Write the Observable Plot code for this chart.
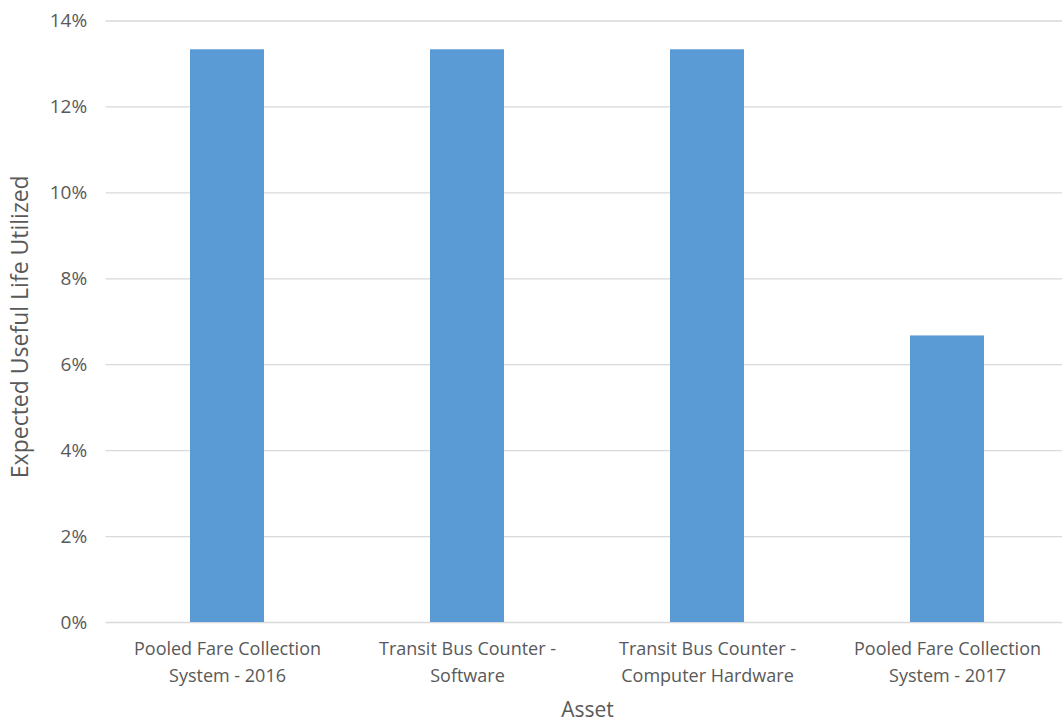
<!DOCTYPE html>
<html>
<head>
<meta charset="utf-8">
<script src="https://cdn.jsdelivr.net/npm/d3@7"></script>
<script src="https://cdn.jsdelivr.net/npm/@observablehq/plot@0.6"></script>
<style>
  html, body { margin: 0; padding: 0; background: #fff; overflow: hidden; }
  #chart svg { display: block; }
</style>
</head>
<body>
<div id="chart"></div>
<script>
// Share of expected useful life already used, by asset
const assets = [
  "Pooled Fare Collection System - 2016",
  "Transit Bus Counter - Software",
  "Transit Bus Counter - Computer Hardware",
  "Pooled Fare Collection System - 2017"
];
const assetLines = [
  "Pooled Fare Collection\nSystem - 2016",
  "Transit Bus Counter -\nSoftware",
  "Transit Bus Counter -\nComputer Hardware",
  "Pooled Fare Collection\nSystem - 2017"
];
const lifeUsed = [13.33, 13.33, 13.33, 6.67];
const yTicks = [0, 2, 4, 6, 8, 10, 12, 14];

const rows = assets.map((a, i) => ({asset: a, value: lifeUsed[i]}));
const lineOf = new Map(assets.map((a, i) => [a, assetLines[i]]));

const textColor = "#595959";
const font = "'Open Sans', 'Noto Sans', sans-serif";

const chart = Plot.plot({
  width: 1062,
  height: 722,
  marginTop: 20.5,
  marginBottom: 100,
  marginLeft: 105.6,
  marginRight: -6.4,
  style: {fontFamily: font, color: textColor, background: "#fff"},
  x: {domain: assets, paddingInner: 0.69, paddingOuter: 0.345, label: null},
  y: {domain: [0, 14], label: null},
  marks: [
    Plot.ruleY(yTicks, {stroke: "#d9d9d9", strokeWidth: 1.3}),
    Plot.barY(rows, {x: "asset", y: "value", fill: "#5b9bd5"}),
    Plot.axisY(yTicks, {
      tickSize: 0, tickPadding: 19, fontSize: 19, fill: textColor,
      tickFormat: d => d + "%", label: null
    }),
    Plot.axisX({
      tickSize: 0, tickPadding: 13, fontSize: 18, fill: textColor,
      lineHeight: 1.5, tickFormat: d => lineOf.get(d), label: null
    }),
    Plot.text(["Expected Useful Life Utilized"], {
      frameAnchor: "left", rotate: -90, dx: -85, dy: 5, textAnchor: "middle",
      fontSize: 23, fill: textColor, text: d => d
    }),
    Plot.text(["Asset"], {
      frameAnchor: "bottom", dy: 94,
      fontSize: 21, fill: textColor, text: d => d
    })
  ]
});

document.getElementById("chart").append(chart);
</script>
</body>
</html>
